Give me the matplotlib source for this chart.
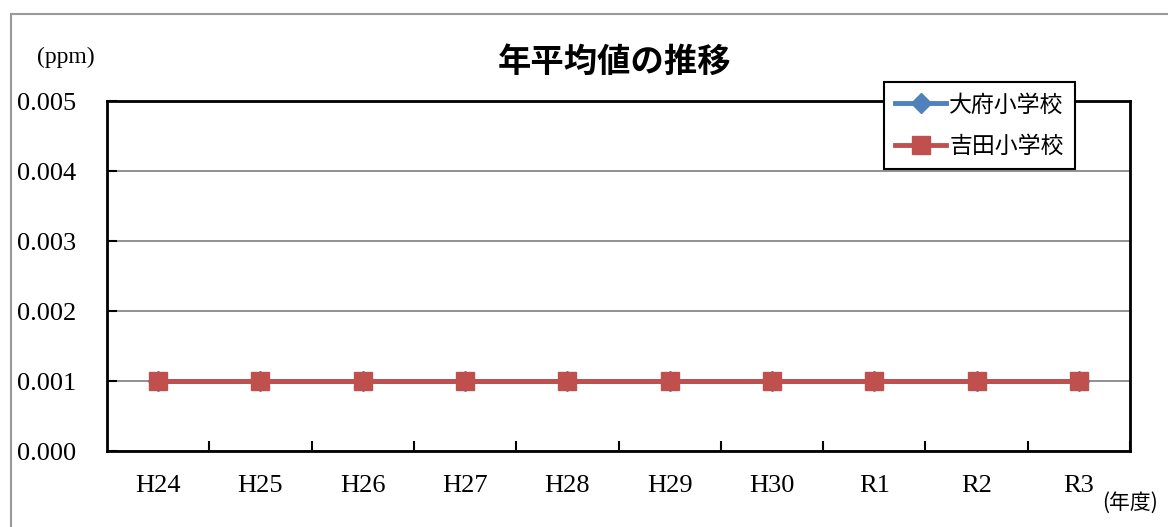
import numpy as np
import matplotlib.pyplot as plt
from matplotlib.patches import Rectangle

# data
years = ['H24', 'H25', 'H26', 'H27', 'H28', 'H29', 'H30', 'R1', 'R2', 'R3']
obu = [0.001, 0.001, 0.001, 0.001, 0.001, 0.001, 0.001, 0.001, 0.001, 0.001]
yoshida = [0.001, 0.001, 0.001, 0.001, 0.001, 0.001, 0.001, 0.001, 0.001, 0.001]
yticks = [0.000, 0.001, 0.002, 0.003, 0.004, 0.005]

W, H = 1168, 527
fig = plt.figure(figsize=(W / 100, H / 100), dpi=100)
ax = fig.add_axes([107 / W, 1 - 451 / H, (1130 - 107) / W, (451 - 101) / H])

serif = ['Liberation Serif', 'DejaVu Serif']
cjk = ['Noto Sans CJK JP', 'DejaVu Sans']

# outer frame of chart area
fig.patches.append(Rectangle((11 / W, -0.1), 1.2, 1 - 14 / H + 0.1,
                             transform=fig.transFigure, fill=False,
                             edgecolor='#999999', linewidth=1.5))

x = np.arange(len(years))
ax.plot(x, obu, color='#4F81BD', linewidth=3.5, marker='D', markersize=10,
        label='大府小学校', zorder=3)
ax.plot(x, yoshida, color='#C0504D', linewidth=3.5, marker='s', markersize=13,
        label='吉田小学校', zorder=4)

ax.set_xlim(-0.5, len(years) - 0.5)
ax.set_ylim(0, 0.005)
ax.set_yticks(yticks)
ax.set_yticklabels([f'{v:.3f}' for v in yticks], fontfamily=serif, fontsize=19)
ax.grid(axis='y', color='#888888', linewidth=1.3)
ax.set_axisbelow(True)

ax.set_xticks(x + 0.5)
ax.set_xticklabels([])
ax.set_xticks(x, minor=True)
ax.set_xticklabels(years, minor=True, fontfamily=serif, fontsize=19)
ax.tick_params(axis='x', which='major', direction='in', length=7, width=1.5)
ax.tick_params(axis='x', which='minor', length=0, pad=17)
ax.tick_params(axis='y', direction='in', length=7, width=1.5, pad=22)

for s in ax.spines.values():
    s.set_linewidth(2)
    s.set_color('black')

fig.text(615 / W, 1 - 62 / H, '年平均値の推移', fontfamily=cjk, fontsize=24,
         fontweight='bold', ha='center', va='center')
fig.text(37 / W, 1 - 57 / H, '(ppm)', fontfamily=serif, fontsize=17,
         ha='left', va='center')
fig.text(1102 / W, 1 - 503 / H, '(年度)', fontfamily=cjk, fontsize=15,
         ha='left', va='center')

leg = ax.legend(loc='upper left', bbox_to_anchor=(884 / W, 1 - 82 / H),
                bbox_transform=fig.transFigure, borderaxespad=0,
                prop={'family': cjk, 'size': 16.5}, fancybox=False,
                framealpha=1, edgecolor='black', handlelength=2.2,
                handletextpad=0.15, labelspacing=0.8, borderpad=0.5)
leg.get_frame().set_linewidth(1.5)

fig.savefig('out.png', dpi=100)
